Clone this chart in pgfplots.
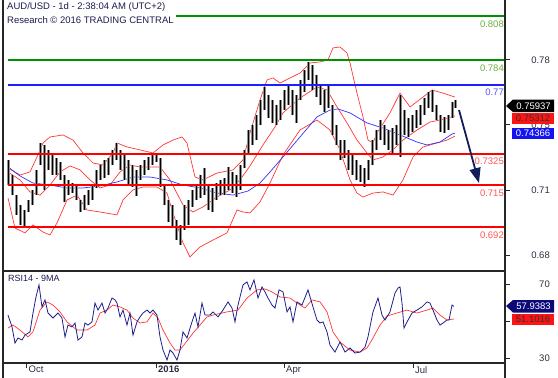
\documentclass[border=0pt]{standalone}
\usepackage{fontspec}
\setmainfont{Liberation Sans}
\usepackage{pgfplots}
\usepackage{pgfplotstable}
\pgfplotsset{compat=1.18}
\usetikzlibrary{arrows.meta}
\definecolor{navy}{RGB}{28,28,80}
\definecolor{txt}{RGB}{45,45,65}
\definecolor{lvlred}{RGB}{255,0,0}
\definecolor{lvlgreen}{RGB}{0,145,0}
\definecolor{lvlblue}{RGB}{30,30,255}
\definecolor{lblgreen}{RGB}{110,175,60}
\definecolor{lblblue}{RGB}{85,85,255}
\definecolor{lblred}{RGB}{255,85,85}
\definecolor{bbred}{RGB}{255,55,55}
\definecolor{mablue}{RGB}{50,50,255}
\definecolor{barc}{RGB}{145,145,145}
\definecolor{arrowc}{RGB}{20,28,90}
\definecolor{rsiblue}{RGB}{30,30,140}
\definecolor{badgered}{RGB}{255,20,20}
\definecolor{badgeblue}{RGB}{20,20,240}
\definecolor{badgenavy}{RGB}{10,10,120}

\pgfplotstableread{
x hi lo cl
8 0.7290 0.7152 0.7262
12 0.7207 0.7097 0.7125
16 0.7097 0.6988 0.7015
20 0.7043 0.6933 0.6988
24 0.7015 0.6927 0.6971
28 0.7070 0.7004 0.7043
32 0.7125 0.7043 0.7097
36 0.7235 0.7097 0.7207
40 0.7383 0.7262 0.7345
44 0.7372 0.7125 0.7290
48 0.7345 0.7235 0.7290
52 0.7317 0.7207 0.7262
56 0.7301 0.7207 0.7246
60 0.7279 0.7180 0.7224
64 0.7207 0.7059 0.7097
68 0.7180 0.7097 0.7136
72 0.7163 0.7108 0.7136
76 0.7152 0.7070 0.7097
80 0.7070 0.7004 0.7026
84 0.7097 0.7015 0.7081
88 0.7125 0.7043 0.7114
92 0.7152 0.7070 0.7136
96 0.7235 0.7136 0.7207
100 0.7262 0.7180 0.7235
104 0.7290 0.7191 0.7262
108 0.7301 0.7207 0.7279
112 0.7345 0.7262 0.7317
116 0.7383 0.7290 0.7355
120 0.7345 0.7235 0.7290
124 0.7317 0.7180 0.7262
128 0.7290 0.7152 0.7235
132 0.7262 0.7141 0.7207
136 0.7235 0.7092 0.7191
140 0.7262 0.7180 0.7235
144 0.7290 0.7207 0.7262
148 0.7306 0.7235 0.7290
152 0.7317 0.7262 0.7301
156 0.7317 0.7279 0.7306
160 0.7301 0.7141 0.7163
164 0.7152 0.7043 0.7070
168 0.7070 0.6949 0.6988
172 0.7043 0.6922 0.6960
176 0.6960 0.6850 0.6894
180 0.6933 0.6823 0.6861
184 0.7043 0.6905 0.6988
188 0.7070 0.6933 0.7015
192 0.7125 0.7032 0.7097
196 0.7152 0.7070 0.7125
200 0.7207 0.7081 0.7152
204 0.7246 0.7097 0.7136
208 0.7152 0.7015 0.7070
212 0.7136 0.7004 0.7097
216 0.7163 0.7070 0.7125
220 0.7180 0.7097 0.7152
224 0.7191 0.7097 0.7169
228 0.7251 0.7125 0.7207
232 0.7224 0.7108 0.7180
236 0.7207 0.7086 0.7136
240 0.7262 0.7125 0.7235
244 0.7345 0.7246 0.7317
248 0.7454 0.7317 0.7399
252 0.7482 0.7372 0.7454
256 0.7537 0.7399 0.7509
260 0.7619 0.7482 0.7575
264 0.7690 0.7564 0.7646
268 0.7646 0.7520 0.7564
272 0.7619 0.7493 0.7592
276 0.7592 0.7482 0.7537
280 0.7619 0.7509 0.7575
284 0.7674 0.7564 0.7646
288 0.7701 0.7592 0.7663
292 0.7674 0.7537 0.7619
296 0.7646 0.7493 0.7619
300 0.7729 0.7619 0.7701
304 0.7784 0.7663 0.7756
308 0.7828 0.7729 0.7795
312 0.7811 0.7674 0.7729
316 0.7756 0.7635 0.7674
320 0.7701 0.7592 0.7646
324 0.7674 0.7553 0.7619
328 0.7701 0.7575 0.7646
332 0.7592 0.7427 0.7482
336 0.7482 0.7372 0.7399
340 0.7399 0.7290 0.7345
344 0.7399 0.7301 0.7345
348 0.7345 0.7235 0.7290
352 0.7317 0.7207 0.7262
356 0.7290 0.7180 0.7235
360 0.7262 0.7169 0.7224
364 0.7246 0.7141 0.7207
368 0.7290 0.7180 0.7246
372 0.7399 0.7262 0.7345
376 0.7454 0.7345 0.7427
380 0.7509 0.7399 0.7482
384 0.7482 0.7372 0.7427
388 0.7454 0.7345 0.7399
392 0.7465 0.7328 0.7427
396 0.7482 0.7372 0.7454
400 0.7646 0.7306 0.7564
404 0.7564 0.7427 0.7509
408 0.7520 0.7416 0.7465
412 0.7537 0.7443 0.7509
416 0.7564 0.7465 0.7537
420 0.7592 0.7482 0.7564
424 0.7630 0.7537 0.7608
428 0.7663 0.7575 0.7641
432 0.7674 0.7553 0.7592
436 0.7592 0.7509 0.7553
440 0.7537 0.7443 0.7482
444 0.7526 0.7438 0.7482
448 0.7537 0.7454 0.7509
452 0.7608 0.7520 0.7586
455 0.7619 0.7575 0.7594
}\bars

\pgfplotstableread{
x y
8 0.7251
20 0.7202
33 0.7163
50 0.7152
67 0.7136
83 0.7136
100 0.7147
117 0.7169
133 0.7196
150 0.7196
167 0.7180
183 0.7152
200 0.7136
217 0.7108
233 0.7097
248 0.7119
260 0.7163
270 0.7224
283 0.7306
300 0.7416
317 0.7526
330 0.7564
338 0.7570
350 0.7548
367 0.7493
383 0.7465
400 0.7427
417 0.7388
427 0.7372
440 0.7388
452 0.7432
455 0.7437
}\mavg

\pgfplotstableread{
x y
8 0.7246
20 0.7207
30 0.7224
37 0.7306
43 0.7383
50 0.7416
63 0.7427
73 0.7399
83 0.7328
93 0.7273
103 0.7262
113 0.7328
117 0.7383
127 0.7361
140 0.7345
153 0.7328
163 0.7372
173 0.7399
182 0.7416
187 0.7383
195 0.7196
203 0.7180
217 0.7218
233 0.7235
243 0.7290
250 0.7438
260 0.7619
267 0.7729
273 0.7740
280 0.7712
290 0.7740
300 0.7767
310 0.7822
320 0.7828
328 0.7839
333 0.7905
340 0.7910
347 0.7877
350 0.7822
357 0.7657
363 0.7526
368 0.7399
373 0.7383
377 0.7438
390 0.7548
400 0.7657
410 0.7581
423 0.7635
432 0.7674
443 0.7657
455 0.7635
}\bbup

\pgfplotstableread{
x y
8 0.7224
20 0.7180
30 0.7114
40 0.7097
50 0.7152
60 0.7224
70 0.7257
80 0.7235
90 0.7180
100 0.7136
110 0.7152
120 0.7224
130 0.7262
140 0.7251
150 0.7251
160 0.7251
170 0.7180
183 0.7043
193 0.7004
203 0.7032
217 0.7086
230 0.7125
240 0.7180
250 0.7257
263 0.7372
275 0.7471
283 0.7548
300 0.7630
317 0.7690
327 0.7674
337 0.7581
347 0.7493
357 0.7399
367 0.7328
373 0.7290
383 0.7306
393 0.7345
403 0.7399
417 0.7454
430 0.7498
440 0.7509
455 0.7531
}\bbmid

\pgfplotstableread{
x y
8 0.7081
15 0.6916
25 0.6889
33 0.6933
43 0.6894
50 0.6878
57 0.6944
67 0.7070
77 0.7097
87 0.7015
100 0.7004
117 0.6988
123 0.7070
133 0.7125
143 0.7141
157 0.7141
167 0.7108
173 0.6999
183 0.6834
190 0.6757
200 0.6812
213 0.6850
227 0.6889
237 0.7015
243 0.7004
250 0.6999
260 0.7059
270 0.7163
283 0.7317
300 0.7454
317 0.7509
330 0.7454
340 0.7345
350 0.7180
357 0.7108
363 0.7086
373 0.7108
383 0.7114
393 0.7097
403 0.7180
413 0.7306
423 0.7361
437 0.7383
447 0.7399
455 0.7421
}\bblow

\pgfplotstableread{
x y
8 53.2
12 46.8
15 38.1
18 40.8
22 39.7
25 42.4
30 44.1
33 54.3
36 63.0
39 69.5
42 57.6
45 61.4
48 54.3
53 51.6
58 54.3
62 51.6
65 41.4
68 47.8
72 46.8
75 48.9
78 39.7
82 41.4
85 48.9
88 47.8
92 49.5
95 59.7
98 55.9
102 59.7
105 54.3
108 57.0
112 62.4
115 61.4
117 59.7
120 52.2
123 55.9
127 47.8
130 54.3
133 42.4
137 49.5
140 52.2
143 54.3
147 55.9
150 54.3
153 55.9
157 53.2
160 41.4
163 34.3
167 28.9
170 34.3
173 32.7
177 28.9
180 34.3
183 44.1
187 40.8
192 49.5
195 54.3
198 46.8
202 59.7
205 53.2
210 53.2
213 54.9
218 52.2
223 55.9
228 60.3
232 57.0
235 49.5
238 58.6
243 69.5
247 71.1
250 66.8
254 72.2
258 62.4
262 68.4
265 65.7
268 62.4
272 58.6
275 57.0
279 66.8
283 65.7
287 54.9
290 57.6
293 49.5
297 60.3
302 58.6
308 66.8
313 57.6
317 50.5
320 48.9
323 49.5
327 44.1
330 37.0
335 33.2
340 38.6
345 33.2
350 35.4
355 32.7
360 33.2
365 35.9
368 41.4
373 54.9
378 62.4
382 53.2
385 50.5
390 54.9
395 65.1
398 67.8
400 68.4
402 59.7
404 46.2
407 49.5
412 54.3
417 55.9
422 57.6
427 60.3
430 59.7
433 55.9
437 50.5
440 47.8
443 48.9
447 50.5
449 50.5
452 58.6
454 57.9
}\rsi

\pgfplotstableread{
x y
8 46.2
13 47.8
20 45.1
28 41.4
33 44.1
40 55.9
47 60.3
53 58.6
60 54.9
67 49.5
77 45.1
87 45.1
95 47.8
100 54.3
107 55.9
113 58.6
120 57.6
127 55.9
133 51.6
140 48.9
147 49.5
153 54.3
158 51.6
163 45.1
170 38.1
175 34.3
180 34.3
187 39.2
193 43.5
200 47.8
207 52.2
213 53.2
227 54.9
238 55.9
247 62.4
257 66.8
265 67.3
272 65.7
280 63.0
290 62.4
297 59.7
305 57.0
312 61.4
320 60.3
327 54.9
333 44.1
340 38.6
350 34.3
360 33.2
367 35.4
373 40.8
380 47.8
387 52.7
397 54.3
407 55.9
417 54.3
427 55.9
433 57.0
440 53.2
447 50.5
454 51.1
}\rsima

\begin{document}
\begin{tikzpicture}[font=\fontsize{9.5}{11}\selectfont]
% ---------------- main price panel ----------------
\begin{axis}[
  at={(3pt,-271pt)}, anchor=south west,
  scale only axis, width=502pt, height=271pt,
  xmin=3, xmax=505, ymin=0.6680, ymax=0.8168,
  axis line style={draw=none},
  xtick=\empty,
  ytick={0.6768,0.7125,0.7482,0.7839},
  yticklabels={},
  ytick pos=right, tick align=outside,
  major tick length=5pt,
  tick style={black!85, line width=0.9pt},
  clip=false,
]
% bollinger + moving average
\addplot[bbred, line width=0.7pt, mark=none] table[x=x,y=y] {\bbup};
\addplot[bbred, line width=0.7pt, mark=none] table[x=x,y=y] {\bbmid};
\addplot[bbred, line width=0.7pt, mark=none] table[x=x,y=y] {\bblow};
\addplot[mablue, line width=0.7pt, mark=none] table[x=x,y=y] {\mavg};

% price bars (high-low)
\addplot[draw=none, mark=none,
  error bars/.cd, y dir=both, y explicit,
  error mark=none, error bar style={barc, line width=3.0pt}]
  table[x=x, y=cl, y error plus expr=\thisrow{hi}-\thisrow{cl},
        y error minus expr=\thisrow{cl}-\thisrow{lo}] {\bars};
\addplot[draw=none, mark=none,
  error bars/.cd, y dir=both, y explicit,
  error mark=none, error bar style={black, line width=1.0pt}]
  table[x=x, y=cl, y error plus expr=\thisrow{hi}-\thisrow{cl},
        y error minus expr=\thisrow{cl}-\thisrow{lo}] {\bars};

% support / resistance levels
\addplot[lvlgreen, line width=2pt, mark=none] coordinates {(8,0.808) (505,0.808)};
\addplot[lvlgreen, line width=2pt, mark=none] coordinates {(8,0.784) (505,0.784)};
\addplot[lvlblue, line width=2pt, mark=none] coordinates {(8,0.770) (505,0.770)};
\addplot[lvlred, line width=2pt, mark=none] coordinates {(8,0.7325) (505,0.7325)};
\addplot[lvlred, line width=2pt, mark=none] coordinates {(8,0.715) (505,0.715)};
\addplot[lvlred, line width=2pt, mark=none] coordinates {(8,0.692) (505,0.692)};

% forecast arrow
\draw[arrowc, line width=1.8pt, -{Triangle[length=15pt,width=11pt]}]
  (axis cs:459,0.7564) -- (axis cs:479,0.7163);

% level labels
\node[anchor=east, text=lblgreen, inner sep=1pt, yshift=-8pt] at (axis cs:505,0.808) {0.808};
\node[anchor=east, text=lblgreen, inner sep=1pt, yshift=-8pt] at (axis cs:505,0.784) {0.784};
\node[anchor=east, text=lblblue, inner sep=1pt, yshift=-6.5pt] at (axis cs:505,0.770) {0.77};
\node[anchor=east, text=lblred, inner sep=1pt, yshift=-8pt] at (axis cs:505,0.7325) {0.7325};
\node[anchor=east, text=lblred, inner sep=1pt, yshift=-7.5pt] at (axis cs:505,0.715) {0.715};
\node[anchor=east, text=lblred, inner sep=1pt, yshift=-7.5pt] at (axis cs:505,0.692) {0.692};

% price axis labels
\node[anchor=east, text=txt, inner sep=0pt, xshift=45pt] at (axis cs:505,0.7839) {0.78};
\node[anchor=east, text=txt, inner sep=0pt, xshift=45pt] at (axis cs:505,0.7482) {0.75};
\node[anchor=east, text=txt, inner sep=0pt, xshift=45pt] at (axis cs:505,0.7125) {0.71};
\node[anchor=east, text=txt, inner sep=0pt, xshift=45pt] at (axis cs:505,0.6768) {0.68};
\end{axis}

% ---------------- RSI panel ----------------
\begin{axis}[
  at={(3pt,-363pt)}, anchor=south west,
  scale only axis, width=502pt, height=92pt,
  xmin=3, xmax=505, ymin=27.3, ymax=77,
  axis line style={draw=none},
  xtick={26,156,284,413}, xticklabels={},
  ytick={30,50,70}, yticklabels={},
  xtick pos=bottom, ytick pos=right, tick align=outside,
  major tick length=5pt,
  tick style={black!85, line width=0.9pt},
  clip=false,
]
\addplot[bbred, line width=0.7pt, mark=none] table[x=x,y=y] {\rsima};
\addplot[rsiblue, line width=0.8pt, mark=none] table[x=x,y=y] {\rsi};

\node[anchor=east, text=txt, inner sep=0pt, xshift=45pt] at (axis cs:505,70) {70};
\node[anchor=east, text=txt, inner sep=0pt, xshift=45pt] at (axis cs:505,30) {30};

\node[anchor=north west, text=txt, inner sep=0pt, xshift=2.5pt, yshift=-3pt] at (axis cs:26,27.3) {Oct};
\node[anchor=north west, text=txt, inner sep=0pt, xshift=2pt, yshift=-3pt, font=\fontsize{9.5}{11}\selectfont\bfseries] at (axis cs:156,27.3) {2016};
\node[anchor=north west, text=txt, inner sep=0pt, xshift=2pt, yshift=-3pt] at (axis cs:284,27.3) {Apr};
\node[anchor=north west, text=txt, inner sep=0pt, xshift=2pt, yshift=-3pt] at (axis cs:413,27.3) {Jul};
\end{axis}

% frame
\draw[black!85, line width=1.2pt] (3pt,0pt) -- (3pt,-378pt);
\draw[black!85, line width=1.2pt] (505pt,0pt) -- (505pt,-378pt);
\draw[black!85, line width=1.2pt] (3pt,-271pt) -- (505pt,-271pt);
\draw[black!85, line width=1.2pt] (3pt,-363pt) -- (505pt,-363pt);

% title
\node[anchor=north west, fill=white, inner xsep=2pt, inner ysep=1pt, align=left,
  text=navy, font=\fontsize{9.5}{14}\selectfont] at (5pt,-1pt)
  {AUD/USD - 1d - 2:38:04 AM (UTC+2)\\Research \textcopyright{} 2016 TRADING CENTRAL};

\node[anchor=west, text=navy, inner sep=0pt, font=\fontsize{9}{10}\selectfont] at (8pt,-278pt) {RSI14 - 9MA};

% price badges
\fill[black] (506pt,-106pt) -- (513pt,-99.5pt) -- (554pt,-99.5pt) -- (554pt,-112pt) -- (513pt,-112pt) -- cycle;
\node[text=white, inner sep=0pt] at (533.5pt,-106pt) {0.75937};
\fill[badgered] (512pt,-112.5pt) rectangle (554pt,-124pt);
\node[text=black!80, inner sep=0pt] at (533pt,-118.3pt) {0.75312};
\fill[badgeblue] (512pt,-127.5pt) rectangle (554pt,-139pt);
\node[text=white, inner sep=0pt] at (533pt,-133.3pt) {0.74366};

% RSI badges
\fill[badgenavy] (506pt,-306pt) -- (513pt,-300pt) -- (554pt,-300pt) -- (554pt,-312.5pt) -- (513pt,-312.5pt) -- cycle;
\node[text=white, inner sep=0pt] at (533.5pt,-306.3pt) {57.9383};
\fill[badgered] (512pt,-313.5pt) rectangle (554pt,-325pt);
\node[text=black!80, inner sep=0pt] at (533pt,-319.3pt) {51.1016};

\pgfresetboundingbox
\useasboundingbox (0pt,0pt) rectangle (558pt,-378pt);
\end{tikzpicture}
\end{document}
